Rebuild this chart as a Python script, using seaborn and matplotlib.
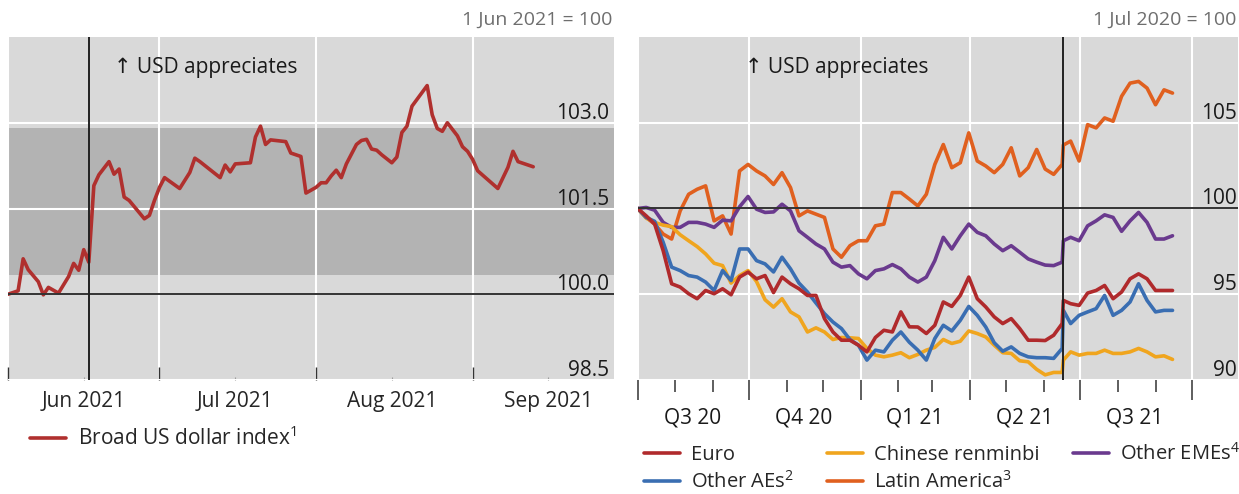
import matplotlib
matplotlib.use("Agg")
import matplotlib.pyplot as plt
import matplotlib.transforms as mtransforms
import pandas as pd
import seaborn as sns

sns.set_style("white")
plt.rcParams['font.family'] = ['Open Sans', 'DejaVu Sans']
plt.rcParams['mathtext.fontset'] = 'custom'
plt.rcParams['mathtext.rm'] = 'Open Sans'
plt.rcParams['mathtext.default'] = 'rm'

# ---- left panel: broad US dollar index (1 Jun 2021 = 100)
usd_dates = ['2021-06-01', '2021-06-03', '2021-06-04', '2021-06-05', '2021-06-07', '2021-06-08',
             '2021-06-09', '2021-06-11', '2021-06-13', '2021-06-14', '2021-06-15', '2021-06-16',
             '2021-06-17', '2021-06-18', '2021-06-19', '2021-06-21', '2021-06-22', '2021-06-23',
             '2021-06-24', '2021-06-25', '2021-06-28', '2021-06-29', '2021-06-30', '2021-07-01',
             '2021-07-02', '2021-07-05', '2021-07-07', '2021-07-08', '2021-07-09', '2021-07-13',
             '2021-07-14', '2021-07-15', '2021-07-16', '2021-07-19', '2021-07-20', '2021-07-21',
             '2021-07-22', '2021-07-23', '2021-07-26', '2021-07-27', '2021-07-29', '2021-07-30',
             '2021-08-01', '2021-08-02', '2021-08-03', '2021-08-04', '2021-08-05', '2021-08-06',
             '2021-08-07', '2021-08-09', '2021-08-10', '2021-08-11', '2021-08-12', '2021-08-13',
             '2021-08-14', '2021-08-16', '2021-08-17', '2021-08-18', '2021-08-19', '2021-08-20',
             '2021-08-23', '2021-08-24', '2021-08-25', '2021-08-26', '2021-08-27', '2021-08-29',
             '2021-08-30', '2021-08-31', '2021-09-01', '2021-09-02', '2021-09-06', '2021-09-08',
             '2021-09-09', '2021-09-10', '2021-09-13']
usd_index = [100.00, 100.06, 100.62, 100.43, 100.22, 99.99,
             100.12, 100.02, 100.31, 100.54, 100.42, 100.78,
             100.56, 101.90, 102.09, 102.32, 102.10, 102.19,
             101.70, 101.64, 101.32, 101.38, 101.64, 101.87,
             102.04, 101.85, 102.13, 102.38, 102.32, 102.04,
             102.26, 102.14, 102.28, 102.30, 102.75, 102.94,
             102.62, 102.70, 102.67, 102.47, 102.41, 101.77,
             101.87, 101.95, 101.95, 102.07, 102.17, 102.04,
             102.28, 102.62, 102.69, 102.71, 102.54, 102.52,
             102.44, 102.30, 102.40, 102.83, 102.94, 103.29,
             103.65, 103.14, 102.90, 102.85, 103.00, 102.77,
             102.58, 102.50, 102.36, 102.16, 101.85, 102.22,
             102.50, 102.32, 102.23]
usd_band = (100.34, 102.90)
usd_yticks = [98.5, 100.0, 101.5, 103.0]
usd_month_starts = ['2021-06-01', '2021-07-01', '2021-08-01', '2021-09-01']
usd_month_mids = ['2021-06-16', '2021-07-16', '2021-08-16', '2021-09-16']
usd_month_labels = ['Jun 2021', 'Jul 2021', 'Aug 2021', 'Sep 2021']

# ---- right panel: bilateral rates (1 Jul 2020 = 100)
fx_dates = ['2020-07-01', '2020-07-08', '2020-07-15', '2020-07-22', '2020-07-29', '2020-08-05',
            '2020-08-12', '2020-08-19', '2020-08-26', '2020-09-02', '2020-09-09', '2020-09-16',
            '2020-09-23', '2020-09-30', '2020-10-07', '2020-10-14', '2020-10-21', '2020-10-28',
            '2020-11-04', '2020-11-11', '2020-11-18', '2020-11-25', '2020-12-02', '2020-12-09',
            '2020-12-16', '2020-12-23', '2020-12-30', '2021-01-06', '2021-01-13', '2021-01-20',
            '2021-01-27', '2021-02-03', '2021-02-10', '2021-02-17', '2021-02-24', '2021-03-03',
            '2021-03-10', '2021-03-17', '2021-03-24', '2021-03-31', '2021-04-07', '2021-04-14',
            '2021-04-21', '2021-04-28', '2021-05-05', '2021-05-12', '2021-05-19', '2021-05-26',
            '2021-06-02', '2021-06-09', '2021-06-16', '2021-06-17', '2021-06-23', '2021-06-30',
            '2021-07-07', '2021-07-14', '2021-07-21', '2021-07-28', '2021-08-04', '2021-08-11',
            '2021-08-18', '2021-08-25', '2021-09-01', '2021-09-08', '2021-09-15']
euro = [100.00, 99.57, 99.09, 97.54, 95.61, 95.42, 95.03, 94.74, 95.22, 95.03,
        95.32, 94.97, 96.00, 96.29, 95.90, 96.09, 95.10, 96.00, 95.61, 95.32,
        94.93, 94.93, 93.58, 92.80, 92.32, 92.32, 92.03, 91.64, 92.48, 92.90,
        92.80, 93.97, 93.10, 93.09, 92.71, 93.19, 94.55, 94.29, 94.93, 96.00,
        94.74, 94.26, 93.68, 93.29, 93.58, 93.00, 92.32, 92.32, 92.30, 92.61,
        93.29, 94.64, 94.45, 94.35, 95.07, 95.22, 95.51, 94.74, 95.13, 95.90,
        96.19, 95.90, 95.22, 95.22, 95.22]
other_aes = [100.00, 99.48, 99.25, 98.03, 96.58, 96.38, 96.09, 96.00, 95.71, 95.22,
             96.38, 95.80, 97.64, 97.64, 96.96, 96.77, 96.30, 97.16, 96.48, 95.65,
             95.13, 94.49, 93.87, 93.38, 93.00, 92.36, 92.03, 91.16, 91.74, 91.64,
             92.32, 92.80, 92.20, 91.74, 91.16, 92.42, 93.19, 92.86, 93.48, 94.29,
             93.77, 93.09, 92.17, 91.68, 91.93, 91.55, 91.35, 91.30, 91.30, 91.26,
             91.84, 94.06, 93.29, 93.77, 93.97, 94.16, 94.93, 93.77, 94.06, 94.55,
             95.61, 94.64, 93.97, 94.06, 94.06]
renminbi = [100.00, 99.44, 99.19, 99.03, 98.94, 98.47, 98.12, 97.78, 97.35, 96.81,
            96.67, 95.65, 96.09, 96.38, 95.74, 94.68, 94.25, 94.74, 93.97, 93.68,
            92.80, 93.04, 92.80, 92.36, 92.48, 92.46, 92.42, 91.84, 91.45, 91.35,
            91.45, 91.59, 91.30, 91.49, 91.74, 91.90, 92.36, 92.13, 92.26, 92.86,
            92.71, 92.51, 92.03, 91.59, 91.55, 91.12, 91.06, 90.62, 90.30, 90.44,
            90.44, 91.16, 91.64, 91.45, 91.55, 91.55, 91.74, 91.55, 91.55, 91.64,
            91.84, 91.64, 91.35, 91.41, 91.20]
latin_america = [100.00, 99.48, 99.09, 98.51, 98.22, 99.86, 100.83, 101.12, 101.32, 99.28,
                 99.57, 98.51, 102.19, 102.57, 102.19, 101.90, 101.40, 102.09, 101.22, 99.57,
                 99.86, 99.67, 99.48, 97.64, 97.16, 97.83, 98.12, 98.12, 98.99, 99.09,
                 100.93, 100.93, 100.55, 100.15, 100.83, 102.57, 103.73, 102.38, 102.67, 104.41,
                 102.77, 102.48, 102.09, 102.57, 103.54, 101.90, 102.38, 103.44, 102.30, 101.99,
                 102.57, 103.70, 103.93, 102.77, 104.89, 104.70, 105.28, 105.09, 106.54, 107.31,
                 107.41, 107.02, 106.05, 106.92, 106.73]
other_emes = [100.00, 100.06, 99.90, 99.19, 98.90, 98.90, 99.19, 99.19, 99.09, 98.90,
              99.32, 99.28, 100.10, 100.70, 99.96, 99.77, 99.80, 100.25, 99.86, 98.70,
              98.32, 97.93, 97.64, 96.87, 96.58, 96.67, 96.19, 95.90, 96.38, 96.48,
              96.73, 96.48, 96.00, 95.71, 96.00, 96.96, 98.32, 97.64, 98.41, 99.09,
              98.61, 98.41, 97.93, 97.54, 97.83, 97.45, 97.06, 96.87, 96.70, 96.67,
              96.87, 98.12, 98.32, 98.12, 98.99, 99.28, 99.63, 99.48, 98.67, 99.28,
              99.77, 99.19, 98.22, 98.22, 98.41]
fx_yticks = [90, 95, 100, 105]
fx_quarter_starts = ['2020-07-01', '2020-10-01', '2021-01-01', '2021-04-01', '2021-07-01', '2021-10-01']
fx_month_starts = ['2020-08-01', '2020-09-01', '2020-11-01', '2020-12-01', '2021-02-01', '2021-03-01',
                   '2021-05-01', '2021-06-01', '2021-08-01', '2021-09-01']
fx_quarter_mids = ['2020-08-15', '2020-11-15', '2021-02-14', '2021-05-16', '2021-08-15']
fx_quarter_labels = ['Q3 20', 'Q4 20', 'Q1 21', 'Q2 21', 'Q3 21']

fomc_date = '2021-06-17'

colors = {'Euro': '#b02a2c', 'Other AEs': '#3a6eb2', 'Chinese renminbi': '#f0a51e',
          'Latin America': '#e0601f', 'Other EMEs': '#6a3a8e'}
legend_names = {'Euro': 'Euro', 'Other AEs': 'Other AEs$^2$', 'Chinese renminbi': 'Chinese renminbi',
                'Latin America': 'Latin America$^3$', 'Other EMEs': 'Other EMEs$^4$'}
draw_order = ['Latin America', 'Other EMEs', 'Chinese renminbi', 'Other AEs', 'Euro']
legend_order = ['Euro', 'Other AEs', 'Chinese renminbi', 'Latin America', 'Other EMEs']

W, H = 1239, 494
FS = 15
BG = '#d9d9d9'

fig = plt.figure(figsize=(W / 100, H / 100), dpi=100)
ax1 = fig.add_axes([8 / W, 1 - 380 / H, 606 / W, 343 / H])
ax2 = fig.add_axes([637.7 / W, 1 - 380 / H, 600.3 / W, 343 / H])

for ax in (ax1, ax2):
    ax.set_facecolor(BG)
    ax.set_axisbelow(True)
    for s in ax.spines.values():
        s.set_visible(False)

# left panel
usd = pd.DataFrame({'date': pd.to_datetime(usd_dates), 'value': usd_index})
ax1.axhspan(usd_band[0], usd_band[1], color='#b3b3b3', lw=0, zorder=0.1)
sns.lineplot(data=usd, x='date', y='value', color='#b0302e', lw=2.6, ax=ax1,
             solid_joinstyle='round', label='Broad US dollar index$^1$')
ax1.set_ylim(98.5, 104.5)
ax1.set_xlim(pd.Timestamp('2021-06-01'), pd.Timestamp('2021-09-29'))

# right panel
fx = pd.DataFrame({'date': pd.to_datetime(fx_dates), 'Euro': euro, 'Other AEs': other_aes,
                   'Chinese renminbi': renminbi, 'Latin America': latin_america,
                   'Other EMEs': other_emes})
fx_long = fx.melt(id_vars='date', var_name='series', value_name='value')
sns.lineplot(data=fx_long, x='date', y='value', hue='series', hue_order=draw_order,
             palette=colors, lw=2.6, ax=ax2, solid_joinstyle='round')
ax2.set_ylim(90, 110)
ax2.set_xlim(pd.Timestamp('2020-07-01'), pd.Timestamp('2021-11-08'))

for ax, ticks, fmt, xr in ((ax1, usd_yticks, '{:.1f}', 0.9917), (ax2, fx_yticks, '{:.0f}', 0.998)):
    ax.set_yticks(ticks)
    ax.tick_params(axis='y', length=0, labelleft=False, labelright=False)
    ax.grid(axis='y', color='white', lw=1.5)
    ax.axhline(100, color='#333333', lw=1.4, zorder=2)
    ax.axvline(pd.Timestamp(fomc_date), color='#222222', lw=1.4, zorder=2)
    ax.set_xlabel('')
    ax.set_ylabel('')
    trans = mtransforms.blended_transform_factory(ax.transAxes, ax.transData)
    trans = trans + mtransforms.ScaledTranslation(0, 0.04, fig.dpi_scale_trans)
    for t in ticks:
        ax.text(xr, t, fmt.format(t), transform=trans, ha='right', va='baseline',
                fontsize=FS, color='#1a1a1a')

# x axis, left
ax1.set_xticks(pd.to_datetime(usd_month_starts))
ax1.set_xticklabels([])
ax1.set_xticks(pd.to_datetime(usd_month_mids), minor=True)
ax1.set_xticklabels(usd_month_labels, minor=True)
ax1.grid(axis='x', which='major', color='white', lw=1.5)
ax1.tick_params(axis='x', which='major', direction='in', length=9.5, width=1.0,
                color='#333333', bottom=True)
ax1.tick_params(axis='x', which='minor', direction='in', length=2, width=0.8,
                color='#999999', labelsize=FS, pad=8, bottom=True)

# x axis, right
ax2.set_xticks(pd.to_datetime(fx_quarter_starts))
ax2.set_xticklabels([])
ax2.set_xticks(pd.to_datetime(fx_month_starts), minor=True)
ax2.set_xticklabels([], minor=True)
ax2.grid(axis='x', which='major', color='white', lw=1.5)
ax2.tick_params(axis='x', which='major', direction='out', length=14.4, width=1.1,
                color='#333333', bottom=True)
ax2.tick_params(axis='x', which='minor', direction='out', length=8.6, width=1.1,
                color='#333333', bottom=True)
qtrans = mtransforms.blended_transform_factory(ax2.transData, ax2.transAxes)
for d, lab in zip(fx_quarter_mids, fx_quarter_labels):
    ax2.text(pd.Timestamp(d), -0.11, lab, transform=qtrans, ha='center', va='center',
             fontsize=FS, color='#1a1a1a')

# annotations
for ax, xa in ((ax1, 0.175), (ax2, 0.179)):
    ax.text(xa, 0.9125, '\u2191 USD appreciates', transform=ax.transAxes, ha='left',
            va='center', fontsize=FS, color='#1a1a1a')
fig.text(612 / W, 1 - 20 / H, '1 Jun 2021 = 100', ha='right', va='center', fontsize=FS - 1,
         color='#6e6e6e')
fig.text(1236 / W, 1 - 20 / H, '1 Jul 2020 = 100', ha='right', va='center', fontsize=FS - 1,
         color='#6e6e6e')

# legends
h1, l1 = ax1.get_legend_handles_labels()
ax1.legend(h1, l1, loc='center left', bbox_to_anchor=(30 / W, 1 - 438 / H),
           bbox_transform=fig.transFigure, frameon=False, fontsize=FS, handlelength=1.75,
           handletextpad=0.55, borderpad=0, borderaxespad=0)

h2, l2 = ax2.get_legend_handles_labels()
hmap = dict(zip(l2, h2))
ax2.legend([hmap[k] for k in legend_order], [legend_names[k] for k in legend_order],
           ncol=3, loc='upper left', bbox_to_anchor=(644 / W, 1 - 443 / H),
           bbox_transform=fig.transFigure, frameon=False, fontsize=14.5, handlelength=1.79,
           handletextpad=0.55, columnspacing=1.65, labelspacing=0.29, borderpad=0,
           borderaxespad=0)

fig.savefig('out.png', dpi=100, facecolor='white')
